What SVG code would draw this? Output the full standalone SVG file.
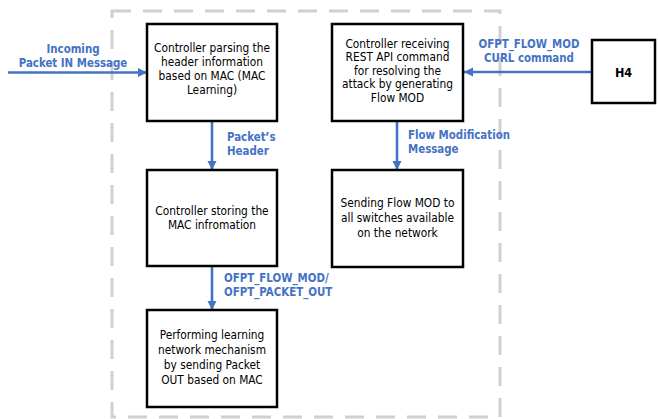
<svg xmlns="http://www.w3.org/2000/svg" width="658" height="419" viewBox="0 0 658 419">
  <defs>
    <marker id="arrow" viewBox="0 0 10 10" refX="10" refY="5" markerWidth="3.6" markerHeight="3.6" orient="auto" markerUnits="strokeWidth">
      <path d="M0,0 L10,5 L0,10 Z" fill="#4472C4"/>
    </marker>
    <style>
      .frame { fill: none; stroke: #d0d0d0; stroke-width: 3; stroke-dasharray: 19 12; }
      .box { fill: #ffffff; stroke: #000000; stroke-width: 2.5; }
      .txt { font-family: "DejaVu Sans Condensed", "DejaVu Sans", "Liberation Sans", sans-serif; font-size: 11.8px; fill: #000000; text-anchor: middle; }
      .lbl { font-family: "DejaVu Sans Condensed", "DejaVu Sans", "Liberation Sans", sans-serif; font-size: 11.4px; font-weight: bold; fill: #4472C4; }
      .mid { text-anchor: middle; }
      .conn { fill: none; stroke: #4472C4; stroke-width: 2.6; marker-end: url(#arrow); }
    </style>
  </defs>

  <rect width="658" height="419" fill="#ffffff"/>

  <!-- controller boundary -->
  <rect class="frame" x="112" y="11" width="388" height="406"/>

  <!-- connectors -->
  <g id="connectors">
    <line class="conn" x1="8" y1="72.5" x2="147" y2="72.5"/>
    <line class="conn" x1="592" y1="72" x2="464" y2="72"/>
    <line class="conn" x1="212" y1="121" x2="212" y2="170"/>
    <line class="conn" x1="397" y1="121" x2="397" y2="170"/>
    <line class="conn" x1="212" y1="266" x2="212" y2="310"/>

    <text class="lbl mid" x="73" y="53">Incoming</text>
    <text class="lbl mid" x="73" y="67">Packet IN Message</text>

    <text class="lbl mid" x="529" y="48">OFPT_FLOW_MOD</text>
    <text class="lbl mid" x="529" y="62">CURL command</text>

    <text class="lbl" x="227" y="141">Packet’s</text>
    <text class="lbl" x="227" y="155">Header</text>

    <text class="lbl" x="408" y="139">Flow Modification</text>
    <text class="lbl" x="408" y="153">Message</text>

    <text class="lbl" x="224" y="282">OFPT_FLOW_MOD/</text>
    <text class="lbl" x="224" y="296">OFPT_PACKET_OUT</text>
  </g>

  <g id="parse">
    <rect class="box" x="147" y="24" width="130" height="97"/>
    <text class="txt" x="212" y="52">Controller parsing the</text>
    <text class="txt" x="212" y="66">header information</text>
    <text class="txt" x="212" y="80">based on MAC (MAC</text>
    <text class="txt" x="212" y="94">Learning)</text>
  </g>

  <g id="rest">
    <rect class="box" x="332" y="24" width="131" height="97"/>
    <text class="txt" x="397.5" y="47.5">Controller receiving</text>
    <text class="txt" x="397.5" y="61">REST API command</text>
    <text class="txt" x="397.5" y="74.5">for resolving the</text>
    <text class="txt" x="397.5" y="88">attack by generating</text>
    <text class="txt" x="397.5" y="101.5">Flow MOD</text>
  </g>

  <g id="store">
    <rect class="box" x="147" y="170" width="130" height="96"/>
    <text class="txt" x="212" y="215">Controller storing the</text>
    <text class="txt" x="212" y="229">MAC infromation</text>
  </g>

  <g id="flowmod">
    <rect class="box" x="332" y="170" width="131" height="97"/>
    <text class="txt" x="397.5" y="207">Sending Flow MOD to</text>
    <text class="txt" x="397.5" y="222">all switches available</text>
    <text class="txt" x="397.5" y="237">on the network</text>
  </g>

  <g id="learn">
    <rect class="box" x="147" y="310" width="130" height="97"/>
    <text class="txt" x="212" y="339">Performing learning</text>
    <text class="txt" x="212" y="354">network mechanism</text>
    <text class="txt" x="212" y="369">by sending Packet</text>
    <text class="txt" x="212" y="384">OUT based on MAC</text>
  </g>

  <g id="h4">
    <rect class="box" x="592" y="40" width="63" height="63"/>
    <text x="623.5" y="76.5" text-anchor="middle" font-family="DejaVu Sans Condensed, DejaVu Sans, sans-serif" font-size="12.5" font-weight="bold" fill="#000000">H4</text>
  </g>
</svg>
